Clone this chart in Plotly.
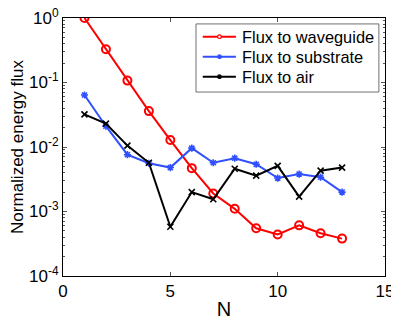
import plotly.graph_objects as go

# data
n_values = list(range(1, 14))
flux_waveguide = [1.0, 0.327, 0.107, 0.036, 0.0128, 0.0047, 0.0019, 0.0011,
                  0.00055, 0.00044, 0.00061, 0.00046, 0.00038]
flux_substrate = [0.064, 0.021, 0.0076, 0.0056, 0.0048, 0.0096, 0.0057, 0.0067,
                  0.0054, 0.0033, 0.0038, 0.0034, 0.0020]
flux_air = [0.032, 0.023, 0.0105, 0.0057, 0.00058, 0.0020, 0.00155, 0.0046,
            0.0036, 0.0051, 0.0017, 0.0043, 0.0048]
series_names = ["Flux to waveguide", "Flux to substrate", "Flux to air"]

y_tick_vals = [1e-4, 1e-3, 1e-2, 1e-1, 1]
y_tick_text = ["10<sup>-4</sup>", "10<sup>-3</sup>", "10<sup>-2</sup>",
               "10<sup>-1</sup>", "10<sup>0</sup>"]
x_tick_vals = [0, 5, 10, 15]

font = "Liberation Sans, Arial, Helvetica, sans-serif"
colors = ["#ff0000", "#3050ff", "#000000"]
symbols = ["circle-open", "asterisk-open", "x-thin-open"]
sizes = [8, 6, 6]

fig = go.Figure()

for name, values, color, symbol, size in zip(
    series_names, [flux_waveguide, flux_substrate, flux_air], colors, symbols, sizes
):
    fig.add_trace(go.Scatter(
        x=n_values, y=values, name=name,
        mode="lines+markers",
        line=dict(color=color, width=2),
        marker=dict(symbol=symbol, size=size, color=color, line=dict(width=2 if size == 8 else 1.6)),
        showlegend=False,
    ))

# minor ticks for the log axis
minor_vals = [m * 10 ** e for e in range(-4, 0) for m in range(2, 10)]

# matlab-like legend box, drawn by hand so the rows are as tight as the original
shapes = [dict(type="rect", xref="paper", yref="paper",
               x0=0.413, x1=0.981, y0=0.713, y1=0.977,
               fillcolor="white", line=dict(color="#707070", width=1), layer="above")]
annotations = []
row_y = [0.9275, 0.850, 0.7725]
for name, color, ypos, i in zip(series_names, colors, row_y, range(3)):
    shapes.append(dict(type="line", xref="paper", yref="paper",
                       x0=0.434, x1=0.537, y0=ypos, y1=ypos,
                       line=dict(color=color, width=2), layer="above"))
    shapes.append(dict(type="circle", xref="paper", yref="paper",
                       xsizemode="pixel", ysizemode="pixel",
                       xanchor=0.486, yanchor=ypos,
                       x0=-1.8, x1=1.8, y0=-1.8, y1=1.8,
                       fillcolor="white" if i == 0 else color,
                       line=dict(color=color, width=1.2), layer="above"))
    annotations.append(dict(xref="paper", yref="paper", x=0.549, y=ypos,
                            xanchor="left", yanchor="middle", showarrow=False,
                            text=name, font=dict(size=16.4, color="black")))

# the page body adds an 8px margin, so the figure is 8px smaller and shifted
fig.update_layout(
    width=391,
    height=312,
    margin=dict(l=55, r=14, t=10, b=44),
    paper_bgcolor="white",
    plot_bgcolor="white",
    font=dict(family=font, size=17, color="black"),
    showlegend=False,
    shapes=shapes,
    annotations=annotations,
    xaxis=dict(
        range=[0, 15], tickvals=x_tick_vals,
        ticks="inside", ticklen=4, tickcolor="#555555",
        showline=True, linecolor="black", linewidth=1, mirror="ticks",
        showgrid=False, zeroline=False, automargin=False,
        ticklabeloverflow="allow",
        title=dict(text="N", standoff=6),
    ),
    yaxis=dict(
        type="log", range=[-4, 0],
        tickvals=y_tick_vals, ticktext=y_tick_text,
        ticks="inside", ticklen=4, tickcolor="#555555",
        minor=dict(tickvals=minor_vals, ticks="inside", ticklen=2, tickcolor="#555555"),
        showline=True, linecolor="black", linewidth=1, mirror="ticks",
        showgrid=False, zeroline=False, automargin=False,
        ticklabeloverflow="allow",
        title=dict(text="Normalized energy flux", standoff=2, font=dict(size=17)),
    ),
)

fig.write_html("out.html")
